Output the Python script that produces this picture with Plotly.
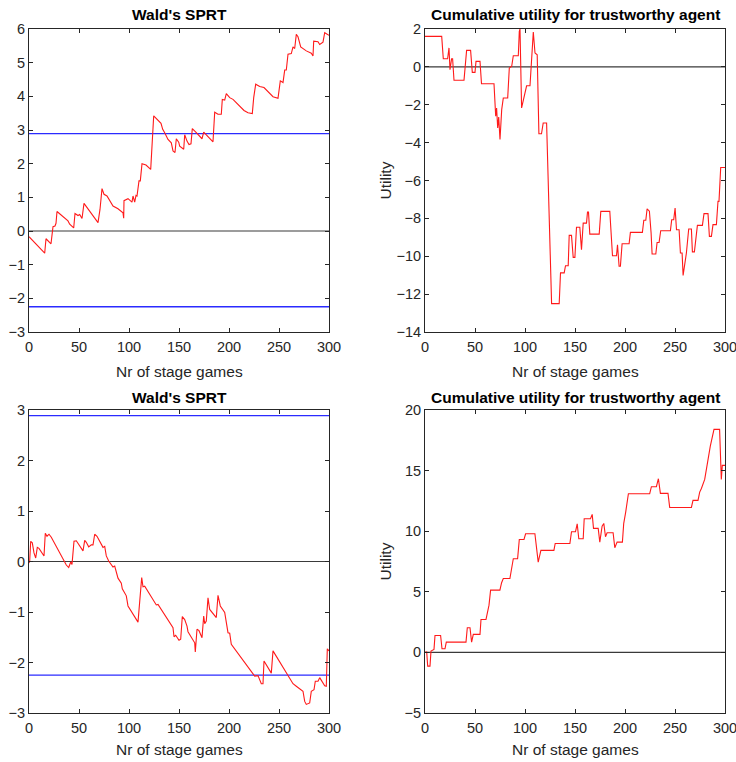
import plotly.graph_objects as go

# ---------------- data (vertices) ----------------
sprt1_x = [0, 15.7, 17, 22, 24, 26, 27, 28, 39, 40.7, 44.7, 46, 49, 50.7, 53, 55, 69, 71, 73, 75, 78, 84, 89, 94, 94.7,
           95, 99, 101.7, 103, 104, 105.7, 107, 108, 110, 111.3, 113, 117, 121.7, 124.7, 132, 133.7, 135.7, 139, 142.3,
           144, 146, 147.3, 149.7, 150.7, 154.7, 155.7, 158, 160, 162, 163.3, 167.3, 173, 174.7, 177.3, 184,
           185.7, 189, 192.3, 193.3, 195.7, 197.3, 200.7, 204, 215, 219, 223.3, 224.7, 226.7, 230.7, 235, 244, 249,
           251.3, 254, 255.7, 257.3, 259, 262.3, 264, 265.7, 267.3, 269, 271.7, 277.3, 282.3, 284, 284.7, 289, 290.7,
           294, 295.7, 300]
sprt1_y = [-0.17, -0.66, -0.23, -0.38, 0.13, 0.15, 0.23, 0.58, 0.3, 0.2, 0.09, 0.52, 0.46, 0.49, 0.37, 0.82, 0.25, 0.64,
           1.26, 1.09, 1.04, 0.74, 0.66, 0.54, 0.38, 0.9, 0.96, 0.89, 0.86, 1.04, 0.86, 1.06, 1.04, 1.49, 1.49, 2.0, 1.96,
           1.83, 3.42, 3.2, 3.02, 2.92, 2.72, 2.62, 2.38, 2.33, 2.74, 2.64, 2.52, 2.43, 2.86, 2.67, 2.57, 2.59, 3.04,
           2.92, 2.74, 2.94, 2.85, 2.65, 3.53, 3.47, 3.47, 3.91, 3.89, 4.08, 3.96, 3.91, 3.58, 3.51, 3.49, 3.96, 4.36,
           4.29, 4.26, 3.99, 3.94, 4.46, 4.41, 4.78, 4.78, 5.25, 5.27, 5.47, 5.42, 5.84, 5.77, 5.47, 5.35, 5.28, 5.2,
           5.64, 5.62, 5.54, 5.61, 5.89, 5.81]

sprt2_x = [0, 0.7, 1.7, 3.3, 5, 6.7, 8.3, 10, 15, 16.3, 18, 20, 22.3, 37.3, 39.7, 41.7, 43, 45, 47.3, 50.7, 54, 55.7, 57.3,
           59.7, 62.3, 64, 65.7, 68, 74, 75.7, 77.3, 79.7, 84, 85.7, 87.3, 89, 92.3, 93.3, 97.3, 99, 109, 110.7, 111.3,
           112.7, 114, 115.7, 127.3, 129, 144, 145, 146.7, 150, 151.7, 153.3, 155.7, 158, 159, 165.7, 166.3, 168, 170,
           173, 174.7, 175.7, 177.3, 179, 180.7, 187.3, 189, 191.3, 195.7, 199, 200.7, 202.3, 225.7, 229, 232.3, 234,
           235, 242.3, 244, 264, 267.3, 272.3, 274, 275.7, 277.3, 280.7, 282.3, 285, 286.3, 289, 290.7, 295.7, 297.3,
           298.3, 300]
sprt2_y = [-0.03, 0.01, 0.4, 0.37, 0.17, 0.07, 0.28, 0.26, 0.11, 0.56, 0.5, 0.54, 0.48, -0.07, -0.12, -0.01, -0.06, 0.4,
           0.41, 0.31, 0.21, 0.42, 0.38, 0.29, 0.33, 0.33, 0.54, 0.5, 0.28, 0.3, 0.11, 0.01, -0.11, -0.09, -0.21, -0.33,
           -0.43, -0.54, -0.68, -0.88, -1.2, -0.75, -0.78, -0.32, -0.5, -0.49, -0.86, -0.85, -1.31, -1.49, -1.46, -1.56,
           -1.54, -1.09, -1.15, -1.28, -1.39, -1.61, -1.79, -1.34, -1.37, -1.51, -1.08, -1.23, -1.18, -0.72, -0.95,
           -1.11, -0.67, -0.88, -1.01, -1.41, -1.42, -1.64, -2.27, -2.26, -2.42, -2.42, -1.97, -2.21, -1.77, -2.42,
           -2.47, -2.55, -2.57, -2.77, -2.83, -2.8, -2.57, -2.54, -2.37, -2.37, -2.3, -2.46, -2.47, -1.73, -1.77]

util1_x = [0, 16.7, 18.3, 22.6, 24, 25, 26.6, 27.6, 29, 39, 41.6, 45.6, 47.3, 50, 51, 55, 56.5, 69, 70.7, 71.6, 72.7,
           73.7, 75, 76.7, 78.3, 82.7, 84.3, 86.7, 88.3, 93.3, 94.3, 95, 96.6, 98.9, 101.6, 105, 106.6, 108.3, 110,
           112.2, 113.9, 116.5, 118.2, 121.6, 126.6, 134.2, 135.5, 139.2, 140.5, 143.2, 144.2, 146.5, 148.2, 149.9,
           151.5, 154.8, 156.5, 158.2, 161.5, 162.5, 163.5, 164.8, 174.2, 175.8, 184.8, 187.5, 191.5, 192.5, 194.1,
           195.4, 197.1, 204.1, 205.4, 217.4, 218.8, 220.8, 222.1, 224.4, 226.1, 227.1, 230.8, 232.1, 234.1, 235.7,
           245.4, 246.7, 248.7, 250.1, 251.5, 254.1, 255.4, 257.1, 258.1, 259.7, 261.4, 263.7, 266.4, 267.4, 269.4,
           272.4, 277.4, 279, 283, 284.4, 286.4, 288, 291.4, 293, 294, 295.7, 300]
util1_y = [1.61, 1.61, 0.43, 0.43, 1.0, -0.15, 0.43, 0.43, -0.71, -0.71, 0.87, 0.87, -0.29, -0.29, 0.29, 0.29, -0.89,
           -0.89, -2.61, -2.17, -3.23, -2.65, -3.84, -2.26, -1.64, -1.64, -0.06, 0.03, 0.59, 0.59, 1.88, 2.0, -2.17,
           -1.56, -1.0, -1.0, 0.56, 1.84, 0.73, 0.64, -3.53, -3.53, -2.96, -2.96, -12.5, -12.5, -10.88, -10.88, -10.5,
           -10.5, -8.9, -8.9, -10.06, -10.06, -8.47, -8.47, -9.65, -8.25, -8.25, -7.67, -7.67, -8.83, -8.83, -7.63,
           -7.63, -9.97, -9.97, -9.39, -10.53, -10.53, -9.34, -9.34, -8.74, -8.74, -8.1, -8.1, -7.5, -7.62, -8.77,
           -9.88, -9.88, -9.27, -9.27, -8.65, -8.65, -8.07, -8.07, -7.46, -8.6, -8.6, -9.83, -9.83, -11.01, -10.36,
           -9.83, -8.56, -8.56, -9.77, -9.77, -8.37, -8.37, -7.75, -7.75, -8.95, -8.95, -8.33, -8.33, -7.1, -7.1,
           -5.31, -5.31]

util2_x = [0, 1.7, 2.7, 5, 6, 9, 10, 15.6, 17, 20, 21.3, 41, 42.3, 45, 46.6, 48.3, 55, 56, 61, 62.3, 64, 65.6, 74.9,
           76.6, 78.3, 84.9, 86.6, 88.3, 92.6, 94.3, 99, 100.6, 109.9, 111.6, 113.2, 115.9, 128.9, 130.2, 144.9, 146.5,
           150.5, 152.2, 153.8, 158.2, 159.2, 165.5, 167.2, 168.5, 173.2, 174.8, 177.1, 178.8, 180.5, 182.1, 188.1,
           189.8, 192.1, 197.4, 198.7, 200.7, 203.4, 224.7, 226.4, 231.4, 233.4, 235.4, 243, 244.7, 266.4, 268, 273,
           274.7, 276.4, 279.7, 283, 285.3, 289, 294.6, 296.3, 297.3, 300]
util2_y = [0, 0.03, -1.13, -1.13, 0.11, 0.25, 1.4, 1.4, 0.3, 0.3, 0.85, 0.85, 2.04, 2.04, 0.85, 1.49, 1.49, 2.72, 2.72,
           3.27, 3.9, 5.14, 5.14, 5.75, 6.1, 6.1, 6.79, 7.73, 7.73, 9.32, 9.32, 9.79, 9.79, 8.5, 7.45, 8.42, 8.42, 8.99,
           8.99, 9.96, 9.96, 10.6, 9.38, 9.38, 11.03, 11.03, 11.39, 10.23, 10.23, 9.1, 10.42, 10.64, 9.54, 9.87, 9.87,
           8.64, 9.1, 9.1, 10.62, 11.58, 13.09, 13.09, 13.67, 13.67, 14.33, 13.12, 13.12, 11.96, 11.96, 12.54, 12.54,
           13.23, 13.53, 14.27, 15.92, 17.02, 18.4, 18.4, 14.27, 15.43, 15.43]

upper_threshold = 2.89
lower_threshold = -2.25
x_range = [0, 300]
x_ticks = [0, 50, 100, 150, 200, 250, 300]

panels = [
    dict(x=sprt1_x, y=sprt1_y, title="Wald's SPRT", yrange=[-3, 6], yticks=list(range(-3, 7)), thresholds=True, ylabel=None),
    dict(x=util1_x, y=util1_y, title="Cumulative utility for trustworthy agent", yrange=[-14, 2],
         yticks=list(range(-14, 3, 2)), thresholds=False, ylabel="Utility"),
    dict(x=sprt2_x, y=sprt2_y, title="Wald's SPRT", yrange=[-3, 3], yticks=list(range(-3, 4)), thresholds=True, ylabel=None),
    dict(x=util2_x, y=util2_y, title="Cumulative utility for trustworthy agent", yrange=[-5, 20],
         yticks=list(range(-5, 21, 5)), thresholds=False, ylabel="Utility"),
]

W, H = 736, 762
xdoms = [[29 / W, 329 / W], [425 / W, 725 / W]]
ydoms = [[1 - 332 / H, 1 - 29 / H], [1 - 713 / H, 1 - 410 / H]]
title_y = [15, 397]
xlabel_y = [371, 749]
ylabel_x = 385

FONT = "Liberation Sans, Arial, Helvetica, sans-serif"
AX = "#262626"

fig = go.Figure()
annotations = []
layout = {}
for i, p in enumerate(panels):
    row, col = divmod(i, 2)
    n = "" if i == 0 else str(i + 1)
    xa, ya = "x" + n, "y" + n
    # zero line
    fig.add_trace(go.Scatter(x=x_range, y=[0, 0], mode="lines", xaxis=xa, yaxis=ya,
                             line=dict(color="#3a3a3a", width=1.2), showlegend=False, hoverinfo="skip"))
    if p["thresholds"]:
        for t in (upper_threshold, lower_threshold):
            fig.add_trace(go.Scatter(x=x_range, y=[t, t], mode="lines", xaxis=xa, yaxis=ya,
                                     line=dict(color="#2b2bff", width=1.3), showlegend=False, hoverinfo="skip"))
    fig.add_trace(go.Scatter(x=p["x"], y=p["y"], mode="lines", xaxis=xa, yaxis=ya,
                             line=dict(color="#ff1a1a", width=1.1), showlegend=False))
    common = dict(showgrid=False, zeroline=False, showline=True, linecolor=AX, linewidth=1,
                  mirror="ticks", ticks="inside", ticklen=4, tickcolor=AX, automargin=False,
                  ticklabeloverflow="allow",
                  tickfont=dict(family=FONT, size=14.5, color=AX))
    layout["xaxis" + n] = dict(domain=xdoms[col], range=x_range, tickvals=x_ticks, anchor=ya,
                               ticklabelstandoff=2, **common)
    layout["yaxis" + n] = dict(domain=ydoms[row], range=p["yrange"], tickvals=p["yticks"], anchor=xa, **common)
    xc = (xdoms[col][0] + xdoms[col][1]) / 2
    annotations.append(dict(text="<b>" + p["title"] + "</b>", xref="paper", yref="paper",
                            x=xc, y=1 - title_y[row] / H, xanchor="center", yanchor="middle", showarrow=False,
                            font=dict(family=FONT, size=15.5, color="#000000")))
    annotations.append(dict(text="Nr of stage games", xref="paper", yref="paper",
                            x=xc, y=1 - xlabel_y[row] / H, xanchor="center", yanchor="middle", showarrow=False,
                            font=dict(family=FONT, size=15.5, color=AX)))
    if p["ylabel"]:
        annotations.append(dict(text=p["ylabel"], xref="paper", yref="paper", textangle=-90,
                                x=ylabel_x / W, y=(ydoms[row][0] + ydoms[row][1]) / 2,
                                xanchor="center", yanchor="middle", showarrow=False,
                                font=dict(family=FONT, size=15.5, color=AX)))

fig.update_layout(width=W, height=H, margin=dict(l=0, r=0, t=0, b=0), plot_bgcolor="white",
                  paper_bgcolor="white", annotations=annotations, **layout)
fig.write_html("out.html")
